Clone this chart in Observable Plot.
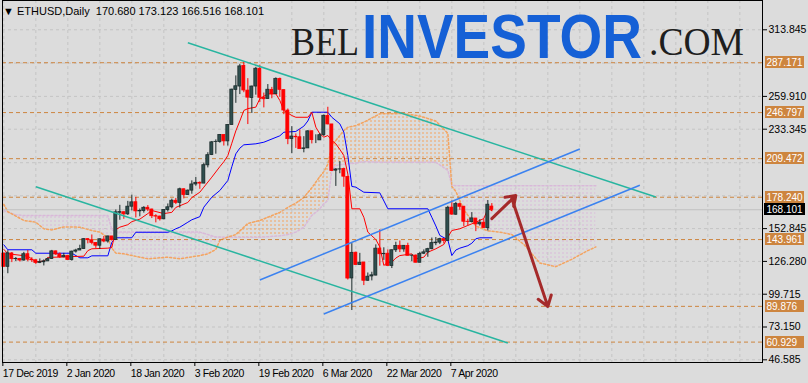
<!DOCTYPE html>
<html>
<head>
<meta charset="utf-8">
<script src="https://cdn.jsdelivr.net/npm/d3@7"></script>
<script src="https://cdn.jsdelivr.net/npm/@observablehq/plot@0.6"></script>
<style>
html,body{margin:0;padding:0;background:#dcdcdc;}
#chart{width:808px;height:383px;overflow:hidden;}
svg{display:block}
</style>
</head>
<body>
<div id="chart"></div>
<script>
// ---------- DATA ----------
const headerSymbol = "ETHUSD,Daily";
const headerOHLC = ["170.680", "173.123", "166.516", "168.101"];

const dates = [
"2019-12-17","2019-12-18","2019-12-19","2019-12-20","2019-12-21","2019-12-22","2019-12-23","2019-12-24","2019-12-25","2019-12-26","2019-12-27","2019-12-28","2019-12-29","2019-12-30","2019-12-31",
"2020-01-01","2020-01-02","2020-01-03","2020-01-04","2020-01-05","2020-01-06","2020-01-07","2020-01-08","2020-01-09","2020-01-10","2020-01-11","2020-01-12","2020-01-13","2020-01-14","2020-01-15","2020-01-16","2020-01-17","2020-01-18","2020-01-19","2020-01-20","2020-01-21","2020-01-22","2020-01-23","2020-01-24","2020-01-25","2020-01-26","2020-01-27","2020-01-28","2020-01-29","2020-01-30","2020-01-31",
"2020-02-01","2020-02-02","2020-02-03","2020-02-04","2020-02-05","2020-02-06","2020-02-07","2020-02-08","2020-02-09","2020-02-10","2020-02-11","2020-02-12","2020-02-13","2020-02-14","2020-02-15","2020-02-16","2020-02-17","2020-02-18","2020-02-19","2020-02-20","2020-02-21","2020-02-22","2020-02-23","2020-02-24","2020-02-25","2020-02-26","2020-02-27","2020-02-28","2020-02-29",
"2020-03-01","2020-03-02","2020-03-03","2020-03-04","2020-03-05","2020-03-06","2020-03-07","2020-03-08","2020-03-09","2020-03-10","2020-03-11","2020-03-12","2020-03-13","2020-03-14","2020-03-15","2020-03-16","2020-03-17","2020-03-18","2020-03-19","2020-03-20","2020-03-21","2020-03-22","2020-03-23","2020-03-24","2020-03-25","2020-03-26","2020-03-27","2020-03-28","2020-03-29","2020-03-30","2020-03-31",
"2020-04-01","2020-04-02","2020-04-03","2020-04-04","2020-04-05","2020-04-06","2020-04-07","2020-04-08","2020-04-09","2020-04-10","2020-04-11","2020-04-12","2020-04-13","2020-04-14","2020-04-15","2020-04-16","2020-04-17"];

const open = [
132.6,121.9,132.7,128.1,128.2,127.0,132.1,127.6,127.2,125.1,125.6,126.3,128.3,134.4,132.0,
129.6,130.8,127.4,134.2,135.1,136.3,144.3,143.4,141.2,139.0,143.9,142.4,146.5,143.6,165.7,166.1,164.4,170.6,174.2,166.8,167.1,169.7,168.3,162.9,162.6,160.4,167.9,170.1,175.4,173.7,184.7,
180.0,183.6,188.6,189.9,189.3,204.1,212.4,222.9,223.0,228.6,223.5,236.7,265.2,267.9,284.6,264.6,258.6,267.9,282.3,258.8,257.8,265.2,261.7,274.1,265.0,248.4,225.5,227.2,226.8,
217.3,217.8,231.7,224.3,224.3,228.6,244.1,237.2,199.8,200.7,201.1,194.7,112.5,133.3,123.4,125.4,110.6,114.1,114.8,136.6,132.1,132.5,122.6,135.3,138.9,136.0,138.8,130.9,131.0,125.2,132.5,
133.6,136.2,141.0,141.5,144.3,142.9,169.8,164.1,172.6,170.6,158.4,158.1,161.0,156.3,157.6,153.2,170.68];
const high = [
133.0,134.9,133.5,129.4,128.7,133.6,135.1,129.3,127.4,128.3,127.5,128.9,135.2,134.7,133.1,
132.8,130.8,134.6,136.1,139.4,144.7,144.7,147.7,141.5,144.5,146.5,146.7,146.5,167.9,171.7,166.3,174.9,179.9,178.1,168.7,170.6,171.5,168.6,164.1,162.9,168.1,172.8,176.7,177.3,185.6,185.0,
184.1,191.5,194.2,190.7,205.9,214.3,223.4,224.7,228.9,228.6,237.2,265.7,276.5,285.9,287.6,274.3,268.2,283.4,285.2,262.6,269.5,267.2,274.9,274.7,265.1,249.7,235.4,229.5,232.9,
227.3,232.1,231.7,228.8,229.9,244.8,251.1,237.2,201.4,207.1,201.8,195.2,140.7,133.8,132.8,125.4,116.9,117.5,139.7,151.9,137.3,135.6,135.6,141.8,142.8,139.1,141.0,131.4,131.5,133.7,135.6,
136.9,145.2,145.6,145.0,144.5,170.9,175.2,174.1,173.5,170.6,160.4,165.8,161.0,160.1,160.3,175.6,173.123];
const low = [
121.7,116.3,125.3,126.2,125.8,126.5,126.0,125.4,123.8,124.5,122.6,126.1,127.8,131.1,128.7,
129.2,127.0,126.5,133.0,135.1,136.1,140.5,139.7,136.8,135.9,141.4,141.1,142.7,143.6,159.6,160.4,163.5,167.2,161.5,162.4,165.4,166.6,161.0,157.5,159.0,160.0,166.3,168.8,172.3,169.5,176.9,
179.9,180.7,187.1,184.7,189.3,202.0,212.0,213.1,222.0,219.7,219.7,236.7,254.3,261.4,262.9,237.1,246.1,260.9,255.0,250.6,257.8,258.0,261.4,259.2,245.1,220.8,213.5,217.8,217.3,
214.2,217.8,221.4,221.7,224.3,227.4,236.9,199.1,187.0,197.3,186.3,111.2,86.5,123.3,123.4,106.7,110.2,110.5,114.6,122.4,127.1,122.6,120.5,133.5,133.4,133.7,130.7,126.1,125.1,125.1,131.8,
129.6,135.7,139.0,139.9,140.4,142.5,163.6,163.7,167.7,154.5,155.0,157.4,150.4,154.9,153.0,150.9,166.516];
const close = [
121.9,132.8,128.1,128.2,127.0,132.1,127.7,127.2,125.1,125.6,126.3,128.1,134.4,131.9,129.6,
130.8,127.4,134.2,135.1,136.3,144.3,143.5,141.3,139.0,144.2,142.4,146.5,143.6,166.0,166.2,164.4,170.6,174.1,166.8,167.1,169.7,168.3,162.9,162.6,160.4,167.9,170.1,175.4,173.7,184.7,180.0,
183.6,188.6,189.9,189.3,204.2,212.3,222.7,223.1,228.6,223.5,236.7,265.4,268.1,284.2,264.7,258.9,267.9,282.3,258.8,257.6,265.3,261.6,274.1,265.2,248.5,225.3,227.4,226.8,217.2,
217.8,231.6,224.5,224.3,228.5,244.2,237.2,199.5,200.7,200.8,194.9,112.4,133.2,123.3,125.2,110.6,113.9,115.0,136.6,132.1,132.4,122.6,135.3,138.8,136.0,138.9,130.8,131.0,125.2,132.4,133.6,
136.2,141.1,141.5,144.3,142.9,169.7,164.2,172.7,170.5,158.4,158.2,161.1,156.3,157.6,153.3,172.2,168.101];

// Ichimoku Tenkan-sen (red) read at break points
const tenkanDates = ["2019-12-17","2019-12-18","2019-12-23","2019-12-25","2019-12-27","2019-12-28","2020-01-06","2020-01-07","2020-01-08","2020-01-12","2020-01-13","2020-01-14","2020-01-15","2020-01-17","2020-01-18","2020-01-20","2020-01-22","2020-01-23","2020-01-26","2020-01-28","2020-01-29","2020-02-01","2020-02-02","2020-02-04","2020-02-05","2020-02-07","2020-02-09","2020-02-10","2020-02-11","2020-02-12","2020-02-13","2020-02-14","2020-02-15","2020-02-16","2020-02-18","2020-02-19","2020-02-21","2020-02-23","2020-02-24","2020-02-25","2020-02-27","2020-02-28","2020-03-02","2020-03-03","2020-03-04","2020-03-05","2020-03-06","2020-03-07","2020-03-08","2020-03-09","2020-03-10","2020-03-11","2020-03-12","2020-03-13","2020-03-15","2020-03-16","2020-03-17","2020-03-18","2020-03-19","2020-03-20","2020-03-21","2020-03-22","2020-03-23","2020-03-24","2020-03-25","2020-03-28","2020-03-29","2020-03-31","2020-04-01","2020-04-03","2020-04-05","2020-04-06","2020-04-07","2020-04-09","2020-04-11","2020-04-12","2020-04-13","2020-04-14","2020-04-15","2020-04-16","2020-04-17"];
const tenkanValues = [136,132.5,130.5,126,126.5,129.5,130.5,135,136.5,137,137.5,152,154,156,158.5,160.5,165,167.5,165,166,170,174,178,182.3,186.4,194.5,203,207,212,222,232,240,248.5,250,251.2,258,262,262,256.6,248.5,244.4,243,243,247,235,229.6,226.9,228.2,224.2,221.5,217,212,197,168.9,168.9,162,150,147,144,138,123,125.7,125.7,129,131,132.4,128.4,129.7,133.7,136.5,140,145.9,151.3,152.7,155.4,156.7,158,159.5,161,169,167.5];

// Ichimoku Kijun-sen (blue)
const kijunDates = ["2019-12-17","2019-12-18","2019-12-24","2019-12-25","2020-01-03","2020-01-05","2020-01-07","2020-01-08","2020-01-12","2020-01-13","2020-01-14","2020-01-18","2020-01-19","2020-01-27","2020-01-28","2020-01-29","2020-01-30","2020-02-01","2020-02-02","2020-02-04","2020-02-05","2020-02-07","2020-02-09","2020-02-11","2020-02-12","2020-02-13","2020-02-14","2020-02-15","2020-02-18","2020-02-20","2020-02-24","2020-02-25","2020-02-28","2020-03-01","2020-03-02","2020-03-03","2020-03-07","2020-03-08","2020-03-10","2020-03-11","2020-03-12","2020-03-13","2020-03-14","2020-03-16","2020-03-20","2020-03-22","2020-04-01","2020-04-02","2020-04-03","2020-04-04","2020-04-06","2020-04-07","2020-04-08","2020-04-09","2020-04-11","2020-04-12","2020-04-13","2020-04-14","2020-04-17"];
const kijunValues = [139.7,135.7,135.7,132.9,132.9,129.2,129.2,130.8,130.8,141.8,145.4,145.4,149.9,149.9,151,152.7,154,158,160,162.5,170.2,178.3,183.7,191.8,203,213.4,218,220.7,221.5,222.8,228,230.9,231.5,235.8,240,247.1,247.1,243,237.7,231,212,187,186.4,182.3,181.8,168.9,168.9,162,155,147.3,143.8,131,135.5,137,139,141,144.6,145.4,145.4];

// Ichimoku cloud: Senkou Span A (orange) and Span B (thistle), shifted forward
const spanDates = ["2019-12-17","2019-12-18","2019-12-20","2019-12-22","2019-12-25","2019-12-27","2019-12-29","2020-01-01","2020-01-05","2020-01-08","2020-01-10","2020-01-12","2020-01-13","2020-01-14","2020-01-16","2020-01-20","2020-01-22","2020-01-27","2020-01-30","2020-02-04","2020-02-06","2020-02-08","2020-02-09","2020-02-11","2020-02-13","2020-02-14","2020-02-16","2020-02-19","2020-02-24","2020-02-26","2020-02-28","2020-03-01","2020-03-03","2020-03-04","2020-03-05","2020-03-06","2020-03-07","2020-03-08","2020-03-09","2020-03-11","2020-03-12","2020-03-14","2020-03-16","2020-03-20","2020-03-26","2020-03-30","2020-04-03","2020-04-06","2020-04-07","2020-04-08","2020-04-10","2020-04-13","2020-04-16","2020-04-19","2020-04-22","2020-04-25","2020-04-29","2020-05-03","2020-05-07","2020-05-11","2020-05-13"];
const spanA = [172.5,166.5,163,159.4,158,152.7,151.8,154.2,154,151.3,150,145.5,137,133,132.4,129.7,128.4,129.7,128.4,131,132.4,136,143.2,146,148,151,157,159.4,166,170,173.5,178,186,190.4,195,199,205,220,224.2,232.3,234.9,236.3,239,245.8,246,244,240,230,187,183,168,155,151,150,148,140,125,122,128,135,138];
const spanB = [167.5,166,164,163.5,163.5,163.5,163.5,163.5,163.5,163.5,163.5,163.5,152,150,150,150,150,150,150,150,148,146,146,145.8,145.8,145.8,145.8,145.8,147,148,150,154,163.5,166,169,172.9,175.6,199.9,203.9,205,205.3,206,207,206.6,206.6,206.6,206.6,200,188,187.6,187.6,187.6,187.6,187.6,187.6,187.6,187.6,187.6,187.6,187.6,187.6];

// Horizontal levels (orange) and current price
const levelValues = [287.171, 246.797, 209.472, 178.240, 143.961, 89.876, 60.929];
const bidValue = 168.101;

// Price axis: labelled ticks, plus grid rows hidden behind level labels
const yTickValues = [46.585, 73.150, 99.715, 126.280, 152.845, 233.345, 259.910, 313.845];
const yGridValues = [46.585, 73.150, 99.715, 126.280, 152.845, 179.410, 206.200, 233.345, 259.910, 286.875, 313.845];
const xLabelDates = ["2019-12-17","2020-01-02","2020-01-18","2020-02-03","2020-02-19","2020-03-06","2020-03-22","2020-04-07"];
const xGridDates = ["2019-12-17","2019-12-25","2020-01-02","2020-01-10","2020-01-18","2020-01-26","2020-02-03","2020-02-11","2020-02-19","2020-02-27","2020-03-06","2020-03-14","2020-03-22","2020-03-30","2020-04-07","2020-04-15","2020-04-23","2020-05-01","2020-05-09","2020-05-17","2020-05-25","2020-06-02","2020-06-10","2020-06-18"];

// Drawn objects: descending channel (teal), ascending channel (blue), arrows
const tealLines = [
  {x1: "2020-02-01", y1: 303.3, x2: "2020-05-28", y2: 178.4},
  {x1: "2019-12-25", y1: 186.8, x2: "2020-04-21", y2: 60.2}
];
const blueLines = [
  {x1: "2020-02-19", y1: 111.2, x2: "2020-05-09", y2: 217.3},
  {x1: "2020-03-06", y1: 83.7, x2: "2020-05-24", y2: 188.0}
];
const arrows = [
  {x1: "2020-04-17", y1: 160.9, x2: "2020-04-23", y2: 179.6},
  {x1: "2020-04-22", y1: 177.2, x2: "2020-05-01", y2: 89.8}
];

// Logo watermark words
const logoWords = ["BEL", "INVESTOR", ".COM"];

// ---------- BUILD ----------
const P = d3.utcParse("%Y-%m-%d");
const candles = dates.map((s, i) => ({date: P(s), o: open[i], h: high[i], l: low[i], c: close[i], up: close[i] >= open[i]}));
const tenkan = tenkanDates.map((s, i) => ({date: P(s), v: tenkanValues[i]}));
const kijun = kijunDates.map((s, i) => ({date: P(s), v: kijunValues[i]}));
const spans = spanDates.map((s, i) => ({date: P(s), a: spanA[i], b: spanB[i]}));
const seg = arr => arr.map(d => ({x1: P(d.x1), y1: d.y1, x2: P(d.x2), y2: d.y2}));
const half = d => [d3.utcHour.offset(d, -9), d3.utcHour.offset(d, 9)];

const day0 = P(dates[0]);
const xDomain = [d3.utcHour.offset(day0, -8), d3.utcHour.offset(day0, 189.675 * 24)];
const font = "'Liberation Sans', Arial, 'DejaVu Sans', sans-serif";

const plot = Plot.plot({
  width: 808, height: 383,
  marginLeft: 2, marginRight: 46, marginTop: 0, marginBottom: 21,
  style: {background: "#dcdcdc", fontFamily: font, fontSize: "10.5px", color: "#000", overflow: "visible"},
  x: {type: "utc", domain: xDomain},
  y: {domain: [44.41, 337.57]},
  marks: [
    Plot.ruleY(yGridValues, {stroke: "#c4c4c4", strokeDasharray: "3,3"}),
    Plot.ruleX(xGridDates.map(P), {stroke: "#c4c4c4", strokeDasharray: "3,3"}),
    // cloud hatch
    Plot.areaY(spans, {x: "date", y1: "b", y2: d => Math.max(d.a, d.b), fill: "url(#hatchA)"}),
    Plot.areaY(spans, {x: "date", y1: "a", y2: d => Math.max(d.a, d.b), fill: "url(#hatchB)"}),
    Plot.line(spans, {x: "date", y: "b", stroke: "#d9b9d9", strokeDasharray: "2,2"}),
    Plot.line(spans, {x: "date", y: "a", stroke: "#f4a460", strokeDasharray: "2,2"}),
    // levels
    Plot.ruleY(levelValues, {stroke: "#cd853f", strokeDasharray: "4,3"}),
    Plot.ruleY([bidValue], {stroke: "#c0c0c0"}),
    // indicator lines
    Plot.line(kijun, {x: "date", y: "v", stroke: "#0000ff", strokeWidth: 1}),
    Plot.line(tenkan, {x: "date", y: "v", stroke: "#ff0000", strokeWidth: 1}),
    // candles
    Plot.ruleX(candles, {x: "date", y1: "l", y2: "h", stroke: d => d.up ? "#1b2b2b" : "#ff0000"}),
    Plot.rect(candles, {x1: d => half(d.date)[0], x2: d => half(d.date)[1],
      y1: d => Math.min(d.o, d.c), y2: d => Math.max(d.o, d.c),
      fill: d => d.up ? "#2f4f4f" : "#ff0000", stroke: d => d.up ? "#1b2b2b" : "#ff0000", strokeWidth: 0.8}),
    // drawn objects
    Plot.link(seg(tealLines), {x1: "x1", y1: "y1", x2: "x2", y2: "y2", stroke: "#28b5a0", strokeWidth: 1.5}),
    Plot.link(seg(blueLines), {x1: "x1", y1: "y1", x2: "x2", y2: "y2", stroke: "#3b82f0", strokeWidth: 1.5}),
    Plot.arrow(seg(arrows), {x1: "x1", y1: "y1", x2: "x2", y2: "y2", stroke: "#a52a2a", strokeWidth: 3, headLength: 6, headAngle: 70}),
    Plot.frame({stroke: "#000"}),
    Plot.axisY({anchor: "right", ticks: yTickValues, tickFormat: d3.format(".3f"), tickSize: 4, tickPadding: 2, label: null}),
    Plot.axisX({ticks: xLabelDates.map(P), tickFormat: d3.utcFormat("%-d %b %Y"), tickSize: 4, tickPadding: 3, textAnchor: "start", dx: -1, label: null})
  ]
});

document.getElementById("chart").appendChild(plot);

const xs = plot.scale("x"), ysc = plot.scale("y");
const x0 = xs.apply(day0);
const svg = d3.select(plot);

// narrower spacing for the time labels
svg.selectAll("[aria-label='x-axis tick label'] text").attr("letter-spacing", "-0.4px");

// hatch patterns for the cloud, aligned with the bar centers
const defs = svg.insert("defs", ":first-child");
[["hatchA", "#f4a460"], ["hatchB", "#d9b9d9"]].forEach(([id, col]) => {
  const p = defs.append("pattern").attr("id", id).attr("patternUnits", "userSpaceOnUse")
    .attr("x", Math.round(x0) - 0.5).attr("y", 0).attr("width", 4).attr("height", 4);
  p.append("rect").attr("x", 0).attr("y", 0).attr("width", 1).attr("height", 2).attr("fill", col);
});

// price labels on the right axis
const rightX = 808 - 46;
const lab = svg.append("g").attr("font-family", font).attr("font-size", 10).attr("text-anchor", "start");
levelValues.forEach(v => {
  const y = Math.round(ysc.apply(v));
  lab.append("rect").attr("x", rightX + 3).attr("y", y - 6).attr("width", 39).attr("height", 12).attr("fill", "#cd853f");
  lab.append("text").attr("x", rightX + 4.5).attr("y", y).attr("dy", "0.36em").attr("fill", "#fff").text(v.toFixed(3));
});
{
  const y = Math.round(ysc.apply(bidValue));
  lab.append("rect").attr("x", rightX + 2).attr("y", y - 6).attr("width", 41).attr("height", 12).attr("fill", "#000");
  lab.append("text").attr("x", rightX + 4.5).attr("y", y).attr("dy", "0.36em").attr("fill", "#fff").text(bidValue.toFixed(3));
}

// header
svg.append("text").attr("x", 3).attr("y", 14.5).attr("text-anchor", "start").attr("font-family", font).attr("font-size", 11).attr("fill", "#000")
  .text("\u25BC " + headerSymbol + "  " + headerOHLC.join(" "));

// logo watermark: each word horizontally scaled to its width in the reference
const logoSpec = [
  {x: 291, y: 55, w: 68, family: "'Liberation Serif', 'DejaVu Serif', serif", weight: "normal", size: 40, fill: "#1e1e1e"},
  {x: 362, y: 57.5, w: 280, family: "'Liberation Sans', Arial, sans-serif", weight: "bold", size: 63, fill: "#1560d6"},
  {x: 649, y: 55, w: 95, family: "'Liberation Serif', 'DejaVu Serif', serif", weight: "normal", size: 40, fill: "#1e1e1e"}
];
const logo = svg.append("g").attr("text-anchor", "start");
logoWords.forEach((word, i) => {
  const s = logoSpec[i];
  const t = logo.append("text").attr("font-family", s.family).attr("font-weight", s.weight)
    .attr("font-size", s.size).attr("fill", s.fill).text(word);
  const natural = t.node().getComputedTextLength() || s.w;
  t.attr("transform", `translate(${s.x},${s.y}) scale(${s.w / natural},1)`);
});
</script>
</body>
</html>
